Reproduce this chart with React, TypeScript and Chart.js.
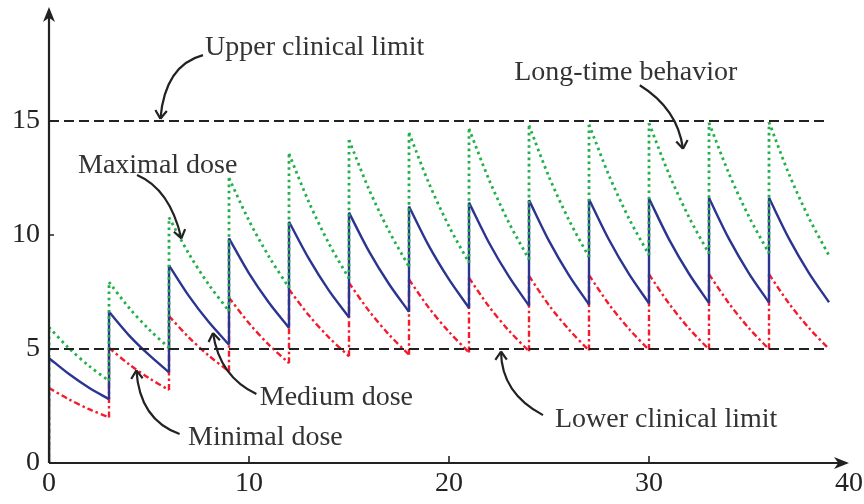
import { useEffect, useRef } from 'react';
import { Chart, registerables } from 'chart.js';
Chart.register(...registerables);

// dose times (every 3 time units) and sample offsets within each dosing interval
const doseTimes = [0, 3, 6, 9, 12, 15, 18, 21, 24, 27, 30, 33, 36];
const sampleOffsets = [0, 1, 2, 3];

// concentration read at offsets 0,1,2,3 after each dose
const maximalDose = [
  [5.95, 5.03, 4.26, 3.6],
  [7.93, 6.81, 5.86, 5.05],
  [10.77, 9.17, 7.81, 6.66],
  [12.5, 10.63, 9.05, 7.69],
  [13.56, 11.43, 9.62, 8.09],
  [14.17, 12.0, 10.17, 8.61],
  [14.48, 12.26, 10.38, 8.78],
  [14.66, 12.43, 10.53, 8.93],
  [14.8, 12.55, 10.65, 9.03],
  [14.84, 12.61, 10.72, 9.12],
  [14.9, 12.67, 10.78, 9.18],
  [14.92, 12.69, 10.8, 9.2],
  [14.95, 12.67, 10.74, 9.1],
];
const mediumDose = [
  [4.6, 3.9, 3.3, 2.8],
  [6.63, 5.6, 4.74, 3.98],
  [8.67, 7.32, 6.17, 5.19],
  [9.85, 8.32, 7.03, 5.93],
  [10.58, 8.95, 7.56, 6.39],
  [10.98, 9.28, 7.85, 6.63],
  [11.25, 9.51, 8.05, 6.8],
  [11.42, 9.66, 8.17, 6.9],
  [11.53, 9.74, 8.23, 6.95],
  [11.57, 9.79, 8.28, 7.0],
  [11.6, 9.81, 8.3, 7.02],
  [11.62, 9.83, 8.32, 7.04],
  [11.63, 9.84, 8.33, 7.05],
];
const minimalDose = [
  [3.29, 2.79, 2.36, 2.0],
  [5.05, 4.33, 3.72, 3.2],
  [6.44, 5.5, 4.7, 4.02],
  [7.25, 6.13, 5.18, 4.38],
  [7.61, 6.47, 5.5, 4.68],
  [7.9, 6.67, 5.63, 4.75],
  [8.05, 6.8, 5.75, 4.85],
  [8.12, 6.86, 5.8, 4.9],
  [8.2, 6.92, 5.85, 4.93],
  [8.24, 6.96, 5.88, 4.96],
  [8.27, 6.99, 5.9, 4.98],
  [8.28, 7.0, 5.91, 4.99],
  [8.28, 7.0, 5.92, 5.0],
];

const limitTimes = [0, 39];
const upperLimit = [15, 15];
const lowerLimit = [5, 5];

const xTicks = [0, 10, 20, 30, 40];
const yTicks = [0, 5, 10, 15];
const xRange = [0, 40];
const yRange = [0, 20];

// annotations: text anchor (left/baseline), arrow start, control, tip — all in data units
const labels = ['Upper clinical limit', 'Long-time behavior', 'Maximal dose', 'Medium dose', 'Minimal dose', 'Lower clinical limit'];
const labelX = [7.8, 23.26, 1.45, 10.54, 6.95, 25.3];
const labelY = [17.88, 16.78, 12.71, 2.55, 0.78, 1.59];
const arrowStart = [[7.7, 17.89], [29.54, 16.57], [4.4, 12.63], [10.37, 3.03], [6.53, 1.27], [24.7, 2.1]];
const arrowCtrl = [[5.8, 17.45], [31.43, 15.54], [6.04, 12.02], [8.53, 3.79], [4.53, 1.89], [22.62, 3.06]];
const arrowTip = [[5.57, 15.1], [31.7, 13.78], [6.62, 9.85], [8.2, 5.7], [4.37, 4.06], [22.6, 4.89]];

const FONT = 'Liberation Serif';
const INK = '#222222';

function buildSeriesDatasets(segments: number[][], style: any) {
  const out: any[] = [];
  let prev = 0;
  segments.forEach((seg, i) => {
    const t0 = doseTimes[i];
    out.push({ ...style, data: [{ x: t0, y: prev }, { x: t0, y: seg[0] }], tension: 0 });
    out.push({ ...style, data: seg.map((v, k) => ({ x: t0 + sampleOffsets[k], y: v })), tension: 0.3 });
    prev = seg[seg.length - 1];
  });
  return out;
}

function drawFilledArrow(ctx: CanvasRenderingContext2D, x: number, y: number, dx: number, dy: number) {
  const len = 15, hw = 6;
  const px = -dy, py = dx;
  ctx.beginPath();
  ctx.moveTo(x, y);
  ctx.lineTo(x - dx * len + px * hw, y - dy * len + py * hw);
  ctx.lineTo(x - dx * len * 0.72, y - dy * len * 0.72);
  ctx.lineTo(x - dx * len - px * hw, y - dy * len - py * hw);
  ctx.closePath();
  ctx.fill();
}

const decorPlugin = {
  id: 'decor',
  afterDatasetsDraw(chart: any) {
    const ctx: CanvasRenderingContext2D = chart.ctx;
    const xs = chart.scales.x;
    const ys = chart.scales.y;
    const X = (v: number) => xs.getPixelForValue(v);
    const Y = (v: number) => ys.getPixelForValue(v);
    ctx.save();
    ctx.strokeStyle = INK;
    ctx.fillStyle = INK;
    ctx.lineWidth = 2.2;
    ctx.setLineDash([]);
    const x0 = X(xRange[0]), y0 = Y(yRange[0]);
    const x1 = X(xRange[1]), y1 = Y(yRange[1]);
    ctx.beginPath();
    ctx.moveTo(x0, y0);
    ctx.lineTo(x1 - 8, y0);
    ctx.moveTo(x0, y0);
    ctx.lineTo(x0, y1 + 8);
    ctx.stroke();
    drawFilledArrow(ctx, x1, y0, 1, 0);
    drawFilledArrow(ctx, x0, y1, 0, -1);
    ctx.lineWidth = 1.6;
    ctx.beginPath();
    xTicks.forEach((v) => {
      if (v === xRange[0] || v === xRange[1]) return;
      ctx.moveTo(X(v), y0);
      ctx.lineTo(X(v), y0 - 7);
    });
    yTicks.forEach((v) => {
      if (v === yRange[0]) return;
      ctx.moveTo(x0, Y(v));
      ctx.lineTo(x0 + 5, Y(v));
    });
    ctx.stroke();
    ctx.font = `28px "${FONT}"`;
    ctx.textAlign = 'left';
    ctx.textBaseline = 'alphabetic';
    labels.forEach((t, i) => {
      ctx.fillStyle = '#333333';
      ctx.fillText(t, X(labelX[i]), Y(labelY[i]));
      const sx = X(arrowStart[i][0]), sy = Y(arrowStart[i][1]);
      const cx = X(arrowCtrl[i][0]), cy = Y(arrowCtrl[i][1]);
      const ex = X(arrowTip[i][0]), ey = Y(arrowTip[i][1]);
      ctx.strokeStyle = INK;
      ctx.lineWidth = 2.2;
      ctx.beginPath();
      ctx.moveTo(sx, sy);
      ctx.quadraticCurveTo(cx, cy, ex, ey);
      ctx.stroke();
      let dx = ex - cx, dy = ey - cy;
      const d = Math.hypot(dx, dy) || 1;
      dx /= d; dy /= d;
      const a = (35 * Math.PI) / 180, L = 10;
      ctx.beginPath();
      for (const s of [1, -1]) {
        const bx = -dx, by = -dy;
        const rx = bx * Math.cos(s * a) - by * Math.sin(s * a);
        const ry = bx * Math.sin(s * a) + by * Math.cos(s * a);
        ctx.moveTo(ex + rx * L, ey + ry * L);
        ctx.lineTo(ex, ey);
      }
      ctx.stroke();
    });
    ctx.restore();
  },
};

export default function App() {
  const ref = useRef<HTMLCanvasElement>(null);
  useEffect(() => {
    document.body.style.margin = '0';
    const limitPts = (vals: number[]) => limitTimes.map((t, i) => ({ x: t, y: vals[i] }));
    const limitStyle = { borderColor: INK, borderWidth: 2.2, borderDash: [10, 5], pointRadius: 0 };
    const datasets = [
      { label: 'Upper clinical limit', data: limitPts(upperLimit), ...limitStyle },
      { label: 'Lower clinical limit', data: limitPts(lowerLimit), ...limitStyle },
      ...buildSeriesDatasets(maximalDose, { label: 'Maximal dose', borderColor: '#22b04a', borderWidth: 2.8, borderDash: [2.6, 3.6], pointRadius: 0 }),
      ...buildSeriesDatasets(mediumDose, { label: 'Medium dose', borderColor: '#2b3590', borderWidth: 2.4, pointRadius: 0 }),
      ...buildSeriesDatasets(minimalDose, { label: 'Minimal dose', borderColor: '#f21c2c', borderWidth: 2.4, borderDash: [6, 3, 2.5, 3], pointRadius: 0 }),
    ];
    const chart = new Chart(ref.current!, {
      type: 'line',
      data: { datasets } as any,
      options: {
        animation: false,
        responsive: false,
        devicePixelRatio: 1,
        layout: { padding: { top: 7, right: 15, left: 0, bottom: 0 } },
        plugins: { legend: { display: false }, tooltip: { enabled: false } },
        elements: { line: { borderCapStyle: 'butt' } },
        scales: {
          x: {
            type: 'linear',
            min: xRange[0],
            max: xRange[1],
            grid: { display: false, drawTicks: false },
            border: { display: false },
            afterBuildTicks: (s: any) => { s.ticks = xTicks.map((v) => ({ value: v })); },
            afterFit: (s: any) => { s.height = 41; s.paddingLeft = 0; s.paddingRight = 0; s.paddingTop = 0; s.paddingBottom = 0; },
            ticks: { font: { family: FONT, size: 28 }, color: INK, padding: 4, maxRotation: 0 },
          },
          y: {
            type: 'linear',
            min: yRange[0],
            max: yRange[1],
            grid: { display: false, drawTicks: false },
            border: { display: false },
            afterBuildTicks: (s: any) => { s.ticks = yTicks.map((v) => ({ value: v })); },
            afterFit: (s: any) => { s.width = 49; s.paddingTop = 0; s.paddingBottom = 0; s.paddingLeft = 0; s.paddingRight = 0; },
            ticks: { font: { family: FONT, size: 28 }, color: INK, padding: 9 },
          },
        },
      } as any,
      plugins: [decorPlugin],
    });
    return () => chart.destroy();
  }, []);
  return (
    <div style={{ position: 'absolute', left: 0, top: 0, width: 864, height: 504 }}>
      <canvas ref={ref} width={864} height={504} style={{ width: 864, height: 504, display: 'block' }} />
    </div>
  );
}
